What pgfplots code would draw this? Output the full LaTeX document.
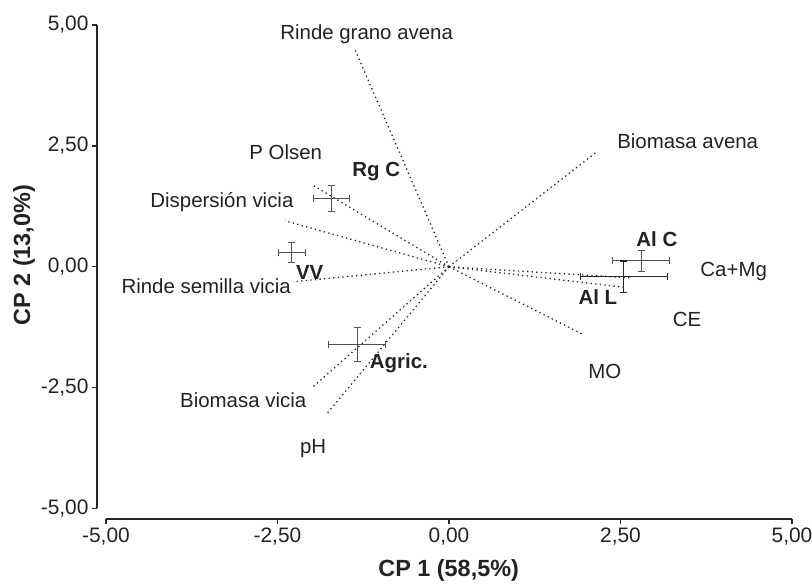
\documentclass[border=0pt]{standalone}
\usepackage{pgfplots}
\pgfplotsset{compat=1.18}
\usepackage{fontspec}
\setmainfont{Liberation Sans}
\definecolor{txt}{HTML}{222222}
\definecolor{errgray}{HTML}{505050}
\begin{document}
\begin{tikzpicture}
\begin{axis}[
  scale only axis,
  width=695bp, height=494bp,
  xmin=-5.131, xmax=5, ymin=-5.217, ymax=5,
  clip=false,
  axis x line=bottom, axis y line=left,
  every outer x axis line/.append style={-, shorten <=9bp},
  every outer y axis line/.append style={-, shorten <=11bp},
  axis line style={line width=1.3bp, black!85},
  tick style={line width=1.3bp, black!85},
  tick align=outside, major tick length=5bp,
  xtick={-5,-2.5,0,2.5,5}, ytick={-5,-2.5,0,2.5,5},
  xticklabels={{-5,00},{-2,50},{0,00},{2,50},{5,00}},
  yticklabels={{-5,00},{-2,50},{0,00},{2,50},{5,00}},
  ticklabel style={font=\fontsize{21}{25}\selectfont, text=txt},
  xlabel={CP 1 (58,5\%)}, ylabel={CP 2 (13,0\%)},
  label style={font=\fontsize{23.5}{28}\selectfont\bfseries, text=txt},
  xlabel style={at={(0.506,0)}, anchor=center, yshift=-51bp},
  ylabel style={at={(0,0.534)}, anchor=center, yshift=73bp},
  vec/.style={black!85, line width=1.3bp, dash pattern=on 1.3bp off 3.3bp, mark=none},
  grp/.style={mark=none,
    error bars/.cd, x dir=both, x explicit, y dir=both, y explicit,
    error bar style={line width=1.1bp},
    error mark=-,
    error mark options={rotate=90, line width=1.1bp, mark size=3.5bp}},
]
% vectors
\addplot[vec] coordinates {(0,0) (-1.37,4.49)};
\addplot[vec] coordinates {(0,0) (2.14,2.36)};
\addplot[vec] coordinates {(0,0) (-2.00,1.70)};
\addplot[vec] coordinates {(0,0) (-2.39,0.95)};
\addplot[vec] coordinates {(0,0) (-2.27,-0.31)};
\addplot[vec] coordinates {(0,0) (-1.98,-2.48)};
\addplot[vec] coordinates {(0,0) (-1.78,-3.04)};
\addplot[vec] coordinates {(0,0) (2.64,-0.23)};
\addplot[vec] coordinates {(0,0) (2.58,-0.43)};
\addplot[vec] coordinates {(0,0) (1.94,-1.39)};
% group means with error bars
\addplot[errgray, grp] coordinates {(-1.71,1.41) +- (0.26,0.27)};
\addplot[errgray, grp] coordinates {(-2.29,0.29) +- (0.20,0.21)};
\addplot[errgray, grp] coordinates {(2.80,0.12) +- (0.42,0.21)};
\addplot[errgray, grp] coordinates {(-1.34,-1.61) +- (0.42,0.35)};
\addplot[black!85, grp] coordinates {(2.55,-0.21) +- (0.63,0.33)};
% labels
\begin{scope}[every node/.style={font=\fontsize{20.5}{24}\selectfont, text=txt, inner sep=0pt, anchor=center}]
\node at (axis cs:-1.20,4.81) {Rinde grano avena};
\node at (axis cs:3.48,2.59) {Biomasa avena};
\node at (axis cs:-2.38,2.36) {P Olsen};
\node[font=\fontsize{20.5}{24}\selectfont\bfseries] at (axis cs:-1.06,1.97) {Rg C};
\node at (axis cs:-3.31,1.33) {Dispersión vicia};
\node[font=\fontsize{20.5}{24}\selectfont\bfseries] at (axis cs:-2.03,-0.12) {VV};
\node at (axis cs:-3.54,-0.41) {Rinde semilla vicia};
\node[font=\fontsize{20.5}{24}\selectfont\bfseries] at (axis cs:3.03,0.56) {Al C};
\node at (axis cs:4.15,-0.10) {Ca+Mg};
\node[font=\fontsize{20.5}{24}\selectfont\bfseries] at (axis cs:2.17,-0.62) {Al L};
\node at (axis cs:3.47,-1.10) {CE};
\node at (axis cs:2.27,-2.17) {MO};
\node[font=\fontsize{20.5}{24}\selectfont\bfseries] at (axis cs:-0.73,-1.99) {Agric.};
\node at (axis cs:-3.00,-2.77) {Biomasa vicia};
\node at (axis cs:-1.98,-3.77) {pH};
\end{scope}
\end{axis}
\pgfresetboundingbox
\path[use as bounding box] ([shift={(-97bp,-66bp)}]current axis.south west) rectangle ([shift={(20bp,25bp)}]current axis.north east);
\end{tikzpicture}
\end{document}
